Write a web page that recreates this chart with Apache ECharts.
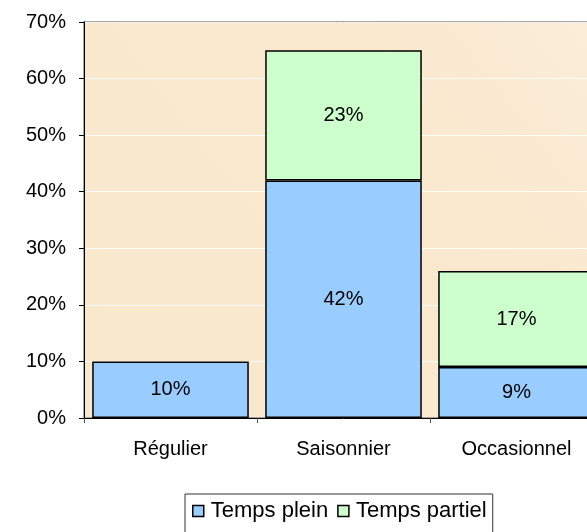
<!DOCTYPE html>
<html>
<head>
<meta charset="utf-8">
<script src="https://cdn.jsdelivr.net/npm/echarts@6/dist/echarts.min.js"></script>
<style>
  html, body { margin: 0; padding: 0; background: #ffffff; overflow: hidden; }
  /* the plot area runs a little past the right edge of the window */
  #chart { width: 620px; height: 532px; }
</style>
</head>
<body>
<div id="chart"></div>
<script>
// Employment type by contract duration (percent of total)
const categories = ['Régulier', 'Saisonnier', 'Occasionnel'];
const tempsPlein = [10, 42, 9];
const tempsPartiel = [null, 23, 17];
const yTicks = [0, 10, 20, 30, 40, 50, 60, 70];

const FONT = 'Liberation Sans, Arial, sans-serif';

const chart = echarts.init(document.getElementById('chart'), null, { renderer: 'canvas' });

const barLabel = {
  show: true,
  position: 'inside',
  color: '#000',
  fontFamily: FONT,
  fontSize: 20,
  formatter: p => (p.value == null ? '' : p.value + '%')
};

chart.setOption({
  animation: false,
  backgroundColor: '#ffffff',
  grid: {
    left: 84,
    top: 22,
    right: 17,
    height: 396,
    show: true,
    backgroundColor: {
      type: 'linear', x: 0, y: 1, x2: 1, y2: 0,
      colorStops: [
        { offset: 0, color: '#f9e8cc' },
        { offset: 0.7, color: '#fae9cf' },
        { offset: 1, color: '#fbedd8' }
      ]
    },
    borderColor: '#8a8a8a',
    borderWidth: 1.5
  },
  xAxis: {
    type: 'category',
    data: categories,
    axisLine: { lineStyle: { color: '#000', width: 1 } },
    axisTick: { show: true, alignWithLabel: false, length: 5, lineStyle: { color: '#555' } },
    axisLabel: { color: '#000', fontFamily: FONT, fontSize: 20, margin: 21 },
    splitLine: { show: false }
  },
  yAxis: {
    type: 'value',
    min: yTicks[0],
    max: yTicks[yTicks.length - 1],
    interval: 10,
    axisLine: { show: true, lineStyle: { color: '#000', width: 1 } },
    axisTick: { show: true, length: 5, inside: false, lineStyle: { color: '#000' } },
    axisLabel: { color: '#000', fontFamily: FONT, fontSize: 20, margin: 18, formatter: v => v + '%' },
    splitLine: { show: true, lineStyle: { color: 'rgba(255,255,255,0.85)', width: 1 } }
  },
  legend: {
    data: ['Temps plein', 'Temps partiel'],
    left: 185,
    top: 494,
    itemWidth: 11,
    itemHeight: 11,
    itemGap: 9,
    icon: 'rect',
    padding: [6, 6, 14, 7],
    borderColor: '#333',
    borderWidth: 1,
    backgroundColor: '#fff',
    itemStyle: { borderColor: '#000', borderWidth: 1.5 },
    textStyle: { color: '#000', fontFamily: FONT, fontSize: 22, padding: [0, 0, 0, 2] }
  },
  series: [
    {
      name: 'Temps plein',
      type: 'bar',
      stack: 'total',
      barWidth: '90.5%',
      data: tempsPlein,
      itemStyle: { color: '#99ccff', borderColor: '#000', borderWidth: 1.5 },
      label: barLabel
    },
    {
      name: 'Temps partiel',
      type: 'bar',
      stack: 'total',
      barWidth: '90.5%',
      data: tempsPartiel,
      itemStyle: { color: '#ccffcc', borderColor: '#000', borderWidth: 1.5 },
      label: barLabel
    }
  ]
});
</script>
</body>
</html>
